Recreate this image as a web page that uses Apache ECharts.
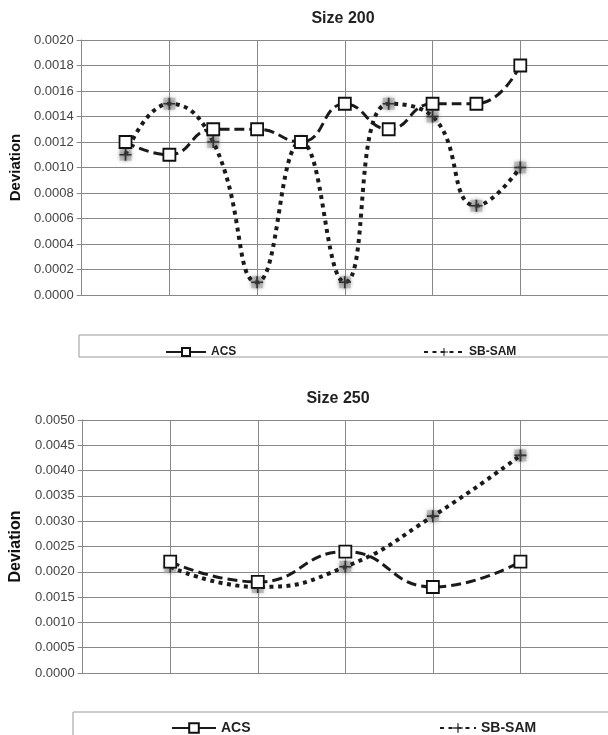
<!DOCTYPE html>
<html>
<head>
<meta charset="utf-8">
<script src="https://cdn.jsdelivr.net/npm/echarts@6/dist/echarts.min.js"></script>
<style>
html,body{margin:0;padding:0;background:#fff;}
#c{width:608px;height:735px;}
</style>
</head>
<body>
<div id="c"></div>
<script>
// ---- data ----
const cats200 = [1, 2, 3, 4, 5, 6, 7, 8, 9, 10];
const acs200 = [0.0012, 0.0011, 0.0013, 0.0013, 0.0012, 0.0015, 0.0013, 0.0015, 0.0015, 0.0018];
const sb200 = [0.0011, 0.0015, 0.0012, 0.0001, 0.0012, 0.0001, 0.0015, 0.0014, 0.0007, 0.0010];
const cats250 = [1, 2, 3, 4, 5];
const acs250 = [0.0022, 0.0018, 0.0024, 0.0017, 0.0022];
const sb250 = [0.0021, 0.0017, 0.0021, 0.0031, 0.0043];
const titles = ['Size 200', 'Size 250'];
const seriesNames = ['ACS', 'SB-SAM'];

const pairs = (c, v) => c.map((x, i) => [x, v[i]]);
const FONT = '"Liberation Sans", Arial, sans-serif';
const plus = 'path://M4.3,0H5.7V4.3H10V5.7H5.7V10H4.3V5.7H0V4.3H4.3Z';

function yAxis(gi, max, interval, nameSize, nameGap) {
  return {
    type: 'value', gridIndex: gi, min: 0, max: max, interval: interval,
    name: 'Deviation', nameLocation: 'middle', nameGap: nameGap,
    nameTextStyle: {fontFamily: FONT, fontWeight: 'bold', fontSize: nameSize, color: '#111'},
    axisLine: {show: true, lineStyle: {color: '#888', width: 1}},
    axisTick: {show: true, length: 5, lineStyle: {color: '#888'}},
    axisLabel: {fontFamily: FONT, fontSize: 13, color: '#444', margin: 8,
      formatter: v => v.toFixed(4)},
    splitLine: {show: true, lineStyle: {color: '#888', width: 1}}
  };
}
function xAxis(gi, max, interval) {
  return {
    type: 'value', gridIndex: gi, min: 0, max: max, interval: interval,
    axisLine: {show: true, lineStyle: {color: '#888'}},
    axisTick: {show: false}, axisLabel: {show: false},
    splitLine: {show: true, lineStyle: {color: '#888', width: 1}}
  };
}
function acsSeries(gi, data) {
  return {
    name: seriesNames[0], type: 'line', xAxisIndex: gi, yAxisIndex: gi,
    data: data, smooth: 0.5, symbol: 'rect', symbolSize: 12, z: 4,
    lineStyle: {color: '#1a1a1a', width: 3, type: [10, 5]},
    itemStyle: {color: '#fff', borderColor: '#111', borderWidth: 1.8}
  };
}
function sbSeries(gi, data) {
  return {
    name: seriesNames[1], type: 'line', xAxisIndex: gi, yAxisIndex: gi,
    data: data, smooth: 0.5, symbol: plus, symbolSize: 12, z: 3,
    lineStyle: {color: '#1a1a1a', width: 4, type: [4, 4.5]},
    itemStyle: {color: '#333', shadowBlur: 3, shadowColor: 'rgba(110,110,110,0.9)'}
  };
}
function haloSeries(gi, data) {
  return {
    name: 'halo', type: 'scatter', xAxisIndex: gi, yAxisIndex: gi, silent: true,
    data: data, symbol: 'rect', symbolSize: 12, z: 2,
    itemStyle: {color: 'rgba(160,160,160,0.75)', shadowBlur: 4, shadowColor: 'rgba(150,150,150,0.8)'}
  };
}
function legend(name, left, top, w, h, size, solid) {
  const l = {data: [name], left: left, top: top, itemWidth: w, itemHeight: h,
    textStyle: {fontFamily: FONT, fontWeight: 'bold', fontSize: size, color: '#222'}};
  if (solid) l.lineStyle = {type: 'solid', width: 2};
  return l;
}

const option = {
  animation: false,
  backgroundColor: '#fff',
  title: [
    {text: titles[0], left: 338, top: 6, textAlign: 'center',
      textStyle: {fontFamily: FONT, fontWeight: 'bold', fontSize: 16, color: '#222'}},
    {text: titles[1], left: 333, top: 386, textAlign: 'center',
      textStyle: {fontFamily: FONT, fontWeight: 'bold', fontSize: 16, color: '#222'}}
  ],
  grid: [
    {left: 77, top: 40, width: 538, height: 255},
    {left: 73, top: 420, width: 536, height: 253}
  ],
  xAxis: [xAxis(0, 12, 2), xAxis(1, 6, 1)],
  yAxis: [yAxis(0, 0.002, 0.0002, 15, 58), yAxis(1, 0.005, 0.0005, 16, 56)],
  graphic: [
    {type: 'rect', shape: {x: 79, y: 335, width: 560, height: 22},
      style: {fill: '#fff', stroke: '#999', lineWidth: 1}, z: 0},
    {type: 'rect', shape: {x: 73, y: 712, width: 560, height: 40},
      style: {fill: '#fff', stroke: '#999', lineWidth: 1}, z: 0}
  ],
  legend: [
    legend(seriesNames[0], 160, 341, 40, 10, 12, true),
    legend(seriesNames[1], 418, 341, 40, 10, 12, false),
    legend(seriesNames[0], 166, 716, 44, 12, 14, true),
    legend(seriesNames[1], 434, 716, 36, 12, 14, false)
  ],
  series: [
    haloSeries(0, pairs(cats200, sb200)),
    sbSeries(0, pairs(cats200, sb200)),
    acsSeries(0, pairs(cats200, acs200)),
    haloSeries(1, pairs(cats250, sb250)),
    sbSeries(1, pairs(cats250, sb250)),
    acsSeries(1, pairs(cats250, acs250))
  ]
};
const chart = echarts.init(document.getElementById('c'), null, {renderer: 'canvas'});
chart.setOption(option);
</script>
</body>
</html>
